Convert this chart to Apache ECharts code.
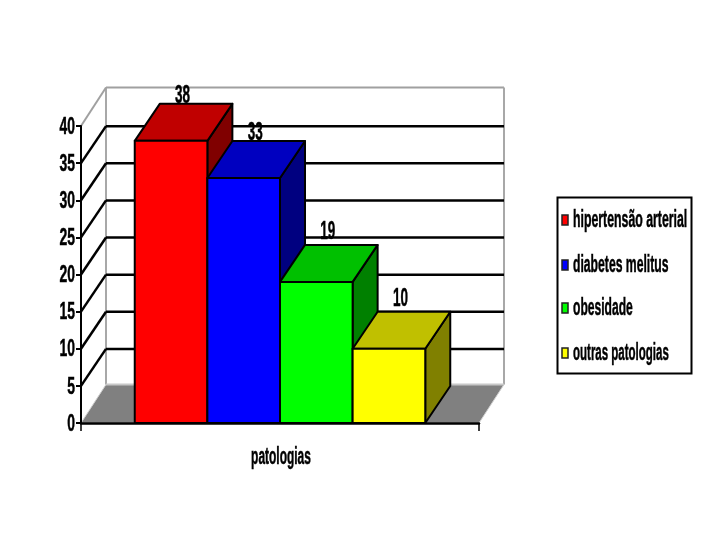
<!DOCTYPE html>
<html>
<head>
<meta charset="utf-8">
<style>
  html, body { margin: 0; padding: 0; background: #fff; }
  #chart { width: 720px; height: 540px; }
</style>
<script src="https://cdn.jsdelivr.net/npm/echarts@6/dist/echarts.min.js"></script>
</head>
<body>
<div id="chart"></div>
<script>
var axisCategories = ['patologias'];
var seriesNames = ['hipertensão arterial', 'diabetes melitus', 'obesidade', 'outras patologias'];
var seriesValues = [38, 33, 19, 10];
var yTicks = [0, 5, 10, 15, 20, 25, 30, 35, 40];

var frontColors = ['#ff0000', '#0000ff', '#00ff00', '#ffff00'];
var topColors = ['#c00000', '#0000c0', '#00c000', '#c0c000'];
var sideColors = ['#800000', '#000080', '#008000', '#808000'];

var FONT = '"Liberation Sans", sans-serif';
// how far the back of the box sits from the front plane, in px
var depthX = 25;
var depthY = -37;
var wallDepthY = -38.5;
var gapRatio = 0.74;

var myChart = echarts.init(document.getElementById('chart'));

function poly(points, fill, stroke, lineWidth) {
  return {
    type: 'polygon',
    shape: { points: points },
    style: { fill: fill, stroke: stroke, lineWidth: lineWidth, lineJoin: 'round' }
  };
}

function seg(x1, y1, x2, y2, color, lineWidth) {
  return {
    type: 'line',
    shape: { x1: x1, y1: y1, x2: x2, y2: y2 },
    style: { stroke: color, lineWidth: lineWidth }
  };
}

// no condensed face is installed, so the bold text is squeezed sideways
function squeezed(text, x, y, size, scaleX, align, vAlign) {
  return {
    type: 'text',
    x: x,
    y: y,
    scaleX: scaleX,
    style: {
      text: text,
      x: 0,
      y: 0,
      align: align,
      verticalAlign: vAlign,
      font: 'bold ' + size + 'px ' + FONT,
      fill: '#000',
      stroke: '#000',
      lineWidth: 0.5
    }
  };
}

// back wall, side wall, floor, the bent grid lines and the axis texts
function renderWalls(params, api) {
  var left = params.coordSys.x;
  var right = left + params.coordSys.width;
  var y0 = api.coord([0, 0])[1];
  var yMax = api.coord([0, yTicks[yTicks.length - 1]])[1];
  var kids = [];

  kids.push(poly([
    [left, y0],
    [left + depthX, y0 + wallDepthY],
    [right + depthX, y0 + wallDepthY],
    [right, y0]
  ], '#808080', '#d0d0d0', 1));

  kids.push(seg(left + depthX, yMax + wallDepthY, right + depthX, yMax + wallDepthY, '#a0a0a0', 2));
  kids.push(seg(left + depthX, yMax + wallDepthY, left + depthX, y0 + wallDepthY, '#a8a8a8', 2));
  kids.push(seg(right + depthX, yMax + wallDepthY, right + depthX, y0 + wallDepthY, '#a8a8a8', 2));
  kids.push(seg(left, yMax, left + depthX, yMax + wallDepthY, '#a0a0a0', 2));
  kids.push(seg(left + depthX, y0 + wallDepthY, right + depthX, y0 + wallDepthY, '#c8c8c8', 2));

  yTicks.forEach(function (t) {
    var y = api.coord([0, t])[1];
    kids.push(squeezed(String(t), left - 6, y + 1, 24, 0.58, 'right', 'middle'));
    if (t === 0 || t === yTicks[yTicks.length - 1]) return;
    kids.push(seg(left, y, left + depthX, y + depthY, '#000', 2.5));
    kids.push(seg(left + depthX, y + depthY, right + depthX, y + depthY, '#000', 2.5));
  });

  kids.push(squeezed(axisCategories[0], api.coord([0, 0])[0] + 1, y0 + 35, 23, 0.52, 'center', 'middle'));

  return { type: 'group', children: kids };
}

function renderBar(params, api) {
  var i = params.seriesIndex - 1;
  var bandWidth = api.size([1, 0])[0];
  var barWidth = bandWidth / (seriesValues.length + 2 * gapRatio);
  var top = api.coord([0, api.value(1)]);
  var base = api.coord([0, 0]);
  var x0 = top[0] + (i - seriesValues.length / 2) * barWidth;
  var x1 = x0 + barWidth;
  var yT = top[1];
  var yB = base[1];
  // taller bars have their number closer to the top face
  var labelGap = api.value(1) > 30 ? 8 : 13;

  return {
    type: 'group',
    children: [
      poly([[x1, yB], [x1 + depthX, yB + depthY], [x1 + depthX, yT + depthY], [x1, yT]], sideColors[i], '#000', 2),
      poly([[x0, yT], [x0 + depthX, yT + depthY], [x1 + depthX, yT + depthY], [x1, yT]], topColors[i], '#000', 2),
      poly([[x0, yT], [x1, yT], [x1, yB], [x0, yB]], frontColors[i], '#000', 2),
      squeezed(String(api.value(1)), (x0 + x1) / 2 + depthX / 2 - 1, yT + depthY - labelGap, 25, 0.54, 'center', 'middle')
    ]
  };
}

var series = [{
  name: 'walls',
  type: 'custom',
  silent: true,
  z: 1,
  renderItem: renderWalls,
  data: [[0, 0]]
}];

seriesNames.forEach(function (name, i) {
  series.push({
    name: name,
    type: 'custom',
    silent: true,
    z: 2 + i,
    itemStyle: { color: frontColors[i] },
    renderItem: renderBar,
    data: [[0, seriesValues[i]]]
  });
});

// legend box, built by hand because the native legend cannot squeeze its text
var legendRows = [221, 266, 309, 354];
var legendScales = [0.535, 0.53, 0.525, 0.5];
var legendGraphic = [{
  type: 'rect',
  shape: { x: 557.5, y: 197.5, width: 134, height: 176 },
  style: { fill: '#fff', stroke: '#000', lineWidth: 2 }
}];
seriesNames.forEach(function (name, i) {
  legendGraphic.push({
    type: 'rect',
    shape: { x: 562, y: legendRows[i] - 6, width: 6, height: 10 },
    style: { fill: frontColors[i], stroke: '#222', lineWidth: 1.5 }
  });
  legendGraphic.push({
    type: 'text',
    x: 573,
    y: legendRows[i],
    scaleX: legendScales[i],
    style: {
      text: name,
      x: 0,
      y: 0,
      align: 'left',
      verticalAlign: 'middle',
      font: 'bold 23px ' + FONT,
      fill: '#000',
      stroke: '#000',
      lineWidth: 0.5
    }
  });
});

var option = {
  animation: false,
  backgroundColor: '#fff',
  graphic: legendGraphic,
  grid: { left: 81, right: 241, top: 126, bottom: 117, containLabel: false },
  xAxis: {
    type: 'category',
    data: axisCategories,
    z: 20,
    axisLine: { lineStyle: { color: '#000', width: 2.5 } },
    axisTick: { show: true, alignWithLabel: false, interval: 0, length: 8, lineStyle: { color: '#000', width: 1.5 } },
    axisLabel: { show: false }
  },
  yAxis: {
    type: 'value',
    min: 0,
    max: 40,
    interval: 5,
    z: 20,
    splitLine: { show: false },
    axisLine: { show: true, lineStyle: { color: '#000', width: 2 } },
    axisTick: { show: true, length: 5, lineStyle: { color: '#000', width: 2 } },
    axisLabel: { show: false }
  },
  series: series
};

myChart.setOption(option);
</script>
</body>
</html>
